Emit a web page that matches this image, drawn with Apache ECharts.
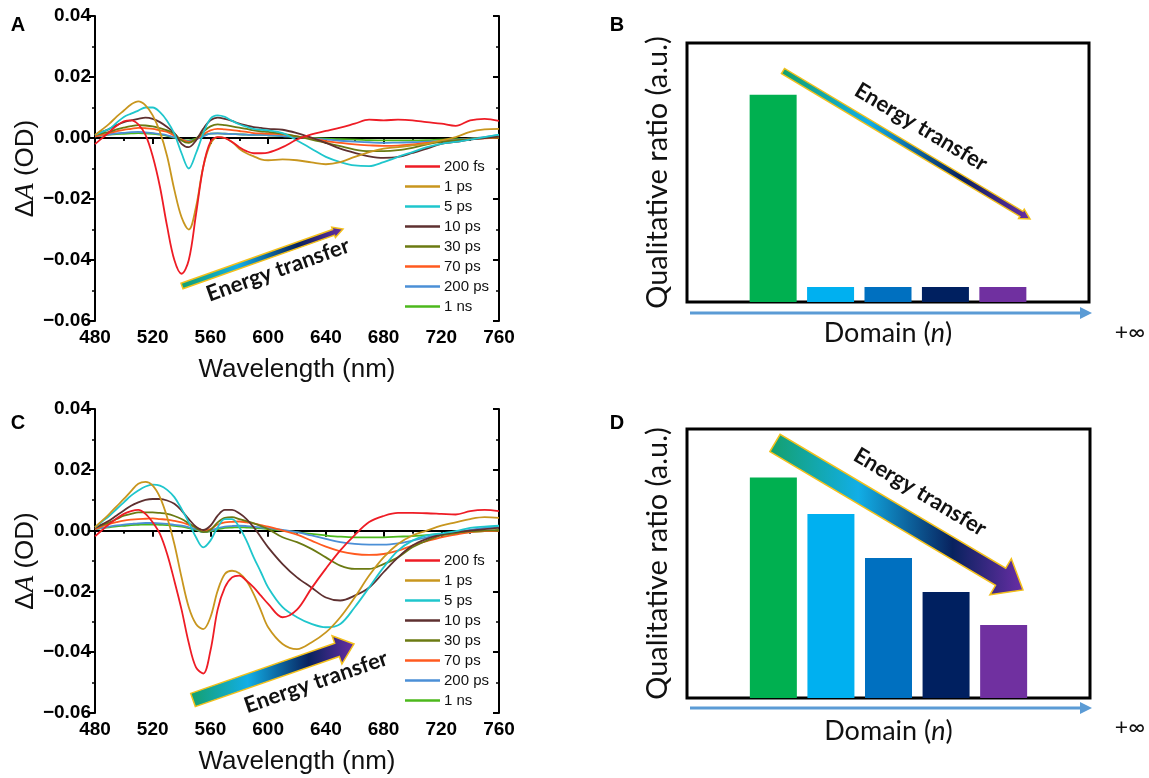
<!DOCTYPE html>
<html>
<head>
<meta charset="utf-8">
<script src="https://cdn.jsdelivr.net/npm/echarts@6/dist/echarts.min.js"></script>
<style>
  html, body { margin: 0; background: #fff; }
  #chart { width: 1149px; height: 778px; }
</style>
</head>
<body>
<div id="chart"></div>
<script>
// wavelength grid (nm), shared by both spectra panels
const wavelengths = [480, 485, 490, 495, 500, 505, 510, 515, 520, 525, 530, 535, 540, 545, 550, 555, 560, 565, 570, 575,
  580, 585, 590, 595, 600, 610, 620, 630, 640, 650, 660, 670, 680, 690, 700, 710, 720, 730, 740, 750, 760];

const delays = ['200 fs', '1 ps', '5 ps', '10 ps', '30 ps', '70 ps', '200 ps', '1 ns'];
const delayColors = ['#ee1c25', '#c8961e', '#1fc6cc', '#5e3030', '#6b7a12', '#ff5a1f', '#4b8fd6', '#4cb81c'];

// panel A: ΔA (OD) per delay
const a200fs = [-0.002, 0.0, 0.002, 0.004, 0.0055, 0.0058, 0.0045, 0.001, -0.006, -0.016, -0.029, -0.040, -0.0445, -0.040, -0.025, -0.0095, -0.0013, 0.0003, 0.0, -0.0013,
  -0.003, -0.0043, -0.005, -0.005, -0.0048, -0.003, -0.0005, 0.0012, 0.0023, 0.0034, 0.0047, 0.006, 0.0058, 0.006, 0.0058, 0.0052, 0.0047, 0.004, 0.0058, 0.0063, 0.0056];
const a1ps = [0.001, 0.0028, 0.0047, 0.007, 0.009, 0.011, 0.012, 0.0107, 0.0074, 0.002, -0.006, -0.017, -0.026, -0.030, -0.0226, -0.0095, -0.002, 0.0003, 0.0, -0.0013,
  -0.0035, -0.005, -0.006, -0.007, -0.0073, -0.007, -0.0073, -0.008, -0.0086, -0.0079, -0.0062, -0.0046, -0.0035, -0.003, -0.0024, -0.0019, -0.0008, 0.0003, 0.002, 0.0028, 0.003];
const a5ps = [0.001, 0.002, 0.003, 0.005, 0.0069, 0.008, 0.009, 0.010, 0.010, 0.0085, 0.0056, 0.0014, -0.005, -0.010, -0.005, 0.0014, 0.0063, 0.0074, 0.0069, 0.0056,
  0.0045, 0.0037, 0.003, 0.0027, 0.0025, 0.0016, -0.0008, -0.0035, -0.0062, -0.0079, -0.009, -0.0092, -0.0079, -0.0062, -0.0046, -0.003, -0.0019, -0.0013, -0.0005, 0.0003, 0.0011];
const a10ps = [0.001, 0.002, 0.003, 0.0042, 0.0052, 0.0058, 0.0063, 0.0067, 0.0063, 0.0052, 0.0036, 0.0016, -0.0019, -0.003, -0.0008, 0.003, 0.0058, 0.0067, 0.0063, 0.0056,
  0.0047, 0.0041, 0.0036, 0.0033, 0.003, 0.0027, 0.0016, 0.0001, -0.0016, -0.0035, -0.0049, -0.006, -0.0065, -0.0062, -0.0049, -0.0035, -0.0019, -0.0013, -0.0005, 0.0, 0.0005];
const a30ps = [0.001, 0.0015, 0.002, 0.0028, 0.0034, 0.0039, 0.0042, 0.0041, 0.0038, 0.0032, 0.0025, 0.0014, -0.0008, -0.0016, -0.0002, 0.002, 0.0038, 0.0045, 0.0042, 0.0038,
  0.0034, 0.003, 0.0025, 0.0022, 0.002, 0.0014, 0.0005, -0.0005, -0.0016, -0.0027, -0.0038, -0.0043, -0.0043, -0.004, -0.0032, -0.0021, -0.0013, -0.0008, -0.0003, 0.0001, 0.0003];
const a70ps = [0.0005, 0.001, 0.0016, 0.0022, 0.0027, 0.003, 0.0033, 0.0032, 0.003, 0.0025, 0.002, 0.0008, -0.0005, -0.0013, -0.0005, 0.0012, 0.0025, 0.003, 0.0028, 0.0026,
  0.0023, 0.002, 0.0016, 0.0015, 0.0014, 0.0012, 0.0005, -0.0002, -0.001, -0.0016, -0.0021, -0.0024, -0.0026, -0.0025, -0.0021, -0.0016, -0.0012, -0.0008, -0.0003, -0.0001, 0.0001];
const a200ps = [0.0005, 0.0009, 0.0012, 0.0015, 0.0017, 0.0019, 0.002, 0.0018, 0.0016, 0.0013, 0.0009, 0.0002, -0.0005, -0.001, -0.0005, 0.0005, 0.0014, 0.0015, 0.0014, 0.0013,
  0.0012, 0.0011, 0.001, 0.001, 0.0009, 0.0006, 0.0003, -0.0001, -0.0005, -0.0009, -0.0012, -0.0014, -0.0016, -0.0015, -0.0014, -0.0012, -0.001, -0.0006, -0.0002, 0.0003, 0.0009];
const a1ns = [0.0005, 0.0008, 0.0011, 0.0013, 0.0014, 0.0015, 0.0016, 0.0015, 0.0014, 0.0011, 0.0007, 0.0001, -0.0005, -0.0008, -0.0002, 0.0009, 0.0014, 0.0015, 0.0014, 0.0013,
  0.0012, 0.0011, 0.001, 0.001, 0.0009, 0.0006, 0.0003, 0.0, -0.0002, -0.0004, -0.0005, -0.0007, -0.0008, -0.0008, -0.0008, -0.0007, -0.0005, -0.0004, -0.0002, 0.0, 0.0001];

// panel C: ΔA (OD) per delay
const c200fs = [-0.0019, 0.0002, 0.0022, 0.004, 0.0055, 0.0064, 0.0068, 0.0055, 0.0027, -0.0011, -0.0077, -0.0165, -0.026, -0.037, -0.045, -0.047, -0.0395, -0.026, -0.0187, -0.0154,
  -0.0148, -0.0165, -0.0187, -0.0214, -0.0241, -0.0285, -0.026, -0.019, -0.0125, -0.0065, -0.0015, 0.0028, 0.0048, 0.0058, 0.0058, 0.0057, 0.0055, 0.0053, 0.0064, 0.0068, 0.0064];
const c1ps = [0.0011, 0.0033, 0.0055, 0.008, 0.0104, 0.013, 0.0154, 0.016, 0.0148, 0.011, 0.0044, -0.0044, -0.0154, -0.0252, -0.0307, -0.0324, -0.0285, -0.0198, -0.0143, -0.0132,
  -0.014, -0.0165, -0.0209, -0.0263, -0.0318, -0.0373, -0.039, -0.0368, -0.0335, -0.0285, -0.022, -0.0148, -0.0088, -0.0044, -0.0016, 0.0, 0.0016, 0.0027, 0.0038, 0.0044, 0.0042];
const c5ps = [0.0011, 0.003, 0.0049, 0.0071, 0.0093, 0.0115, 0.0132, 0.0145, 0.0151, 0.0148, 0.0134, 0.011, 0.0071, 0.0027, -0.0022, -0.0055, -0.0033, 0.0011, 0.0038, 0.0038,
  0.0011, -0.0033, -0.0088, -0.0137, -0.0187, -0.0252, -0.0285, -0.0307, -0.0318, -0.0307, -0.0252, -0.0187, -0.0121, -0.0066, -0.0033, -0.0016, -0.0009, -0.0002, 0.0009, 0.0013, 0.0016];
const c10ps = [0.0009, 0.0021, 0.0033, 0.005, 0.0066, 0.0082, 0.0093, 0.0101, 0.0104, 0.0104, 0.0099, 0.0088, 0.0066, 0.0038, 0.0013, 0.0002, 0.0016, 0.0049, 0.0068, 0.0068,
  0.0057, 0.0038, 0.0011, -0.0022, -0.0055, -0.011, -0.0154, -0.0187, -0.022, -0.023, -0.0214, -0.0187, -0.0137, -0.0088, -0.0049, -0.0027, -0.0013, -0.0005, 0.0, 0.0005, 0.0009];
const c30ps = [0.0009, 0.0018, 0.0027, 0.0038, 0.0049, 0.0055, 0.006, 0.006, 0.006, 0.0058, 0.0055, 0.0048, 0.0038, 0.0024, 0.0009, -0.0005, 0.0002, 0.0027, 0.0042, 0.0044,
  0.0038, 0.0031, 0.0024, 0.0015, 0.0005, -0.0022, -0.0038, -0.006, -0.0088, -0.0115, -0.0126, -0.0126, -0.011, -0.0088, -0.0055, -0.0033, -0.0016, -0.0008, -0.0002, 0.0, 0.0002];
const c70ps = [0.0005, 0.0014, 0.0022, 0.0028, 0.0033, 0.0036, 0.0038, 0.0039, 0.004, 0.0038, 0.0036, 0.0032, 0.0027, 0.0019, 0.0011, 0.0, 0.0005, 0.002, 0.0027, 0.0029,
  0.003, 0.0027, 0.0024, 0.0018, 0.0013, 0.0, -0.0013, -0.0033, -0.0053, -0.0068, -0.0077, -0.008, -0.0077, -0.0066, -0.0049, -0.0035, -0.0022, -0.0013, -0.0005, -0.0002, 0.0];
const c200ps = [0.0005, 0.0009, 0.0013, 0.0017, 0.002, 0.0022, 0.0024, 0.0025, 0.0025, 0.0024, 0.0022, 0.0019, 0.0016, 0.0011, 0.0005, -0.0005, 0.0, 0.0008, 0.0013, 0.0015,
  0.0016, 0.0015, 0.0013, 0.001, 0.0008, 0.0002, -0.0005, -0.0016, -0.0027, -0.0038, -0.0044, -0.0046, -0.0046, -0.0042, -0.0033, -0.0022, -0.0013, -0.0005, 0.0002, 0.0009, 0.0013];
const c1ns = [0.0005, 0.0008, 0.0011, 0.0014, 0.0016, 0.0018, 0.0019, 0.002, 0.002, 0.0019, 0.0018, 0.0016, 0.0013, 0.0008, 0.0002, -0.0005, -0.0002, 0.0004, 0.0009, 0.001,
  0.0011, 0.001, 0.0009, 0.0007, 0.0005, 0.0, -0.0005, -0.0011, -0.0016, -0.002, -0.0022, -0.0022, -0.0022, -0.002, -0.0018, -0.0015, -0.0011, -0.0009, -0.0005, -0.0002, 0.0];

const spectraA = [a200fs, a1ps, a5ps, a10ps, a30ps, a70ps, a200ps, a1ns];
const spectraC = [c200fs, c1ps, c5ps, c10ps, c30ps, c70ps, c200ps, c1ns];

// panels B / D: qualitative domain ratio (empty slots at both ends)
const domains = ['pad0', 'n1', 'n2', 'n3', 'n4', 'n5', 'pad6'];
const ratioB = [null, 80, 5.8, 5.8, 5.8, 5.8, null];
const ratioD = [null, 82, 68.4, 52, 39.4, 27.1, null];
const domainColors = ['#00b050', '#00b050', '#00b0f0', '#0070c0', '#002060', '#7030a0', '#7030a0'];

const chart = echarts.init(document.getElementById('chart'));

const black = '#000';
const sans = 'Liberation Sans';
const fmtY = v => (v < -1e-9 ? '\u2212' : '') + Math.abs(v).toFixed(2);

// spectrum panel axes: bottom/left with labels, top/right mirror
function specX(gi, pos) {
  const main = pos === 'bottom';
  return {
    type: 'value', gridIndex: gi, position: pos, min: 480, max: 760, interval: 40,
    axisLine: { lineStyle: { color: black, width: 2 } },
    axisTick: { inside: !main, length: 6, lineStyle: { color: black, width: 2 } },
    minorTick: { show: true, splitNumber: 2, length: 3, lineStyle: { color: black, width: 1.5 } },
    splitLine: { show: false },
    axisLabel: { show: main, color: black, fontSize: 19, fontWeight: 'bold', fontFamily: sans, margin: 7 },
    name: main ? 'Wavelength (nm)' : '', nameLocation: 'middle', nameGap: 36,
    nameTextStyle: { fontSize: 26, color: '#111', fontFamily: sans }
  };
}
function specY(gi, pos) {
  const main = pos === 'left';
  return {
    type: 'value', gridIndex: gi, position: pos, min: -0.06, max: 0.04, interval: 0.02,
    axisLine: { lineStyle: { color: black, width: 2 } },
    axisTick: { inside: !main, length: 6, lineStyle: { color: black, width: 2 } },
    minorTick: { show: true, splitNumber: 2, length: 3, lineStyle: { color: black, width: 1.5 } },
    splitLine: { show: false },
    axisLabel: { show: main, color: black, fontSize: 19, fontWeight: 'bold', fontFamily: sans, margin: 4, formatter: fmtY },
    name: main ? '{n|\u0394}{i|A}{n| (OD)}' : '', nameLocation: 'middle', nameGap: 52,
    nameTextStyle: {
      rich: {
        n: { fontSize: 26, color: '#111', fontFamily: sans },
        i: { fontSize: 27, color: '#111', fontFamily: 'Liberation Serif', fontStyle: 'italic' }
      }
    }
  };
}
function barX(gi, gap) {
  return {
    type: 'category', gridIndex: gi, data: domains,
    axisLine: { show: false }, axisTick: { show: false }, axisLabel: { show: false }, splitLine: { show: false },
    name: 'Domain ({i|n})', nameLocation: 'middle', nameGap: gap,
    nameTextStyle: {
      fontSize: 27, color: '#111', fontFamily: 'Lato',
      rich: { i: { fontSize: 27, color: '#111', fontFamily: 'Lato', fontStyle: 'italic' } }
    }
  };
}
function barY(gi) {
  return {
    type: 'value', gridIndex: gi, min: 0, max: 100,
    axisLine: { show: false }, axisTick: { show: false }, axisLabel: { show: false }, splitLine: { show: false },
    name: 'Qualitative ratio (a.u.)', nameLocation: 'middle', nameGap: 15,
    nameTextStyle: { fontSize: 29, color: '#111', fontFamily: 'Lato' }
  };
}

function lineSeries(list, axisIdx) {
  return list.map((vals, k) => ({
    type: 'line', name: delays[k], xAxisIndex: axisIdx, yAxisIndex: axisIdx,
    data: wavelengths.map((w, i) => [w, vals[i]]),
    symbol: 'none', smooth: 0.35, z: 10 - k,
    lineStyle: { width: 1.8, color: delayColors[k] },
    itemStyle: { color: delayColors[k] }
  }));
}
function barSeries(vals, axisIdx) {
  return {
    type: 'bar', xAxisIndex: axisIdx, yAxisIndex: axisIdx, barWidth: 47,
    data: vals.map((v, i) => ({ value: v, itemStyle: { color: domainColors[i] } }))
  };
}

// gradient arrow polygon between two points
function arrowPts(x1, y1, x2, y2, sw, hw, hl) {
  const L = Math.hypot(x2 - x1, y2 - y1);
  const ux = (x2 - x1) / L, uy = (y2 - y1) / L;
  const nx = -uy, ny = ux;
  const bx = x2 - ux * hl, by = y2 - uy * hl;
  return [
    [x1 + nx * sw / 2, y1 + ny * sw / 2], [bx + nx * sw / 2, by + ny * sw / 2], [bx + nx * hw / 2, by + ny * hw / 2],
    [x2, y2],
    [bx - nx * hw / 2, by - ny * hw / 2], [bx - nx * sw / 2, by - ny * sw / 2], [x1 - nx * sw / 2, y1 - ny * sw / 2]
  ];
}
function energyArrow(x1, y1, x2, y2, sw, hw, hl) {
  return {
    type: 'polygon', z: 50,
    shape: { points: arrowPts(x1, y1, x2, y2, sw, hw, hl) },
    style: {
      fill: new echarts.graphic.LinearGradient(0, 0, 1, 0, [
        { offset: 0, color: '#14a06c' }, { offset: 0.35, color: '#12aee6' },
        { offset: 0.72, color: '#08225e' }, { offset: 1, color: '#6a2ea6' }
      ]),
      stroke: '#f3c01a', lineWidth: 1.5
    }
  };
}
function energyText(x, y, deg, size) {
  return {
    type: 'text', x: x, y: y, rotation: deg * Math.PI / 180, z: 51,
    style: { text: 'Energy transfer', fontSize: size, fontWeight: 'bold', fontFamily: 'Lato', fill: '#111', align: 'center', verticalAlign: 'middle' }
  };
}
function domainArrow(y) {
  return [
    { type: 'line', shape: { x1: 690, y1: y, x2: 1082, y2: y }, style: { stroke: '#5b9bd5', lineWidth: 3 } },
    { type: 'polygon', shape: { points: [[1080, y - 6], [1092, y], [1080, y + 6]] }, style: { fill: '#5b9bd5' } },
    { type: 'text', x: 1130, y: y + 20, style: { text: '+\u221e', fontSize: 23, fontFamily: 'Lato', fill: '#111', align: 'center', verticalAlign: 'middle' } }
  ];
}
function panelLabel(t, x, y) {
  return { type: 'text', x: x, y: y, style: { text: t, fontSize: 20, fontWeight: 'bold', fontFamily: sans, fill: black, align: 'center', verticalAlign: 'middle' } };
}

const legendBase = {
  orient: 'vertical', data: delays, icon: 'rect', itemWidth: 35, itemHeight: 2.5, itemGap: 5, padding: 0,
  selectedMode: false,
  textStyle: { fontSize: 15, color: '#111', fontFamily: sans, padding: [0, 0, 0, -1] }
};

const option = {
  backgroundColor: '#fff',
  animation: false,
  grid: [
    { left: 95, top: 16, width: 404, height: 305 },
    { left: 95, top: 409, width: 404, height: 304 },
    { left: 687, top: 43, width: 402, height: 259, show: true, borderColor: black, borderWidth: 3 },
    { left: 687, top: 429, width: 403, height: 269, show: true, borderColor: black, borderWidth: 3 }
  ],
  xAxis: [specX(0, 'bottom'), specX(0, 'top'), specX(1, 'bottom'), specX(1, 'top'), barX(2, 18), barX(3, 20)],
  yAxis: [specY(0, 'left'), specY(0, 'right'), specY(1, 'left'), specY(1, 'right'), barY(2), barY(3)],
  legend: [
    Object.assign({ left: 405, top: 159 }, legendBase),
    Object.assign({ left: 405, top: 553 }, legendBase)
  ],
  series: [].concat(
    lineSeries(spectraA, 0),
    lineSeries(spectraC, 2),
    [barSeries(ratioB, 4), barSeries(ratioD, 5)]
  ),
  graphic: [].concat(
    [panelLabel('A', 18, 25), panelLabel('B', 617, 25), panelLabel('C', 18, 423), panelLabel('D', 617, 423)],
    [energyArrow(182, 286, 343, 229, 6, 11, 10), energyText(278, 270, 19.5, 22)],
    [energyArrow(193, 700, 354, 644, 14, 30, 18), energyText(316, 682, 19, 22)],
    [energyArrow(783, 71, 1030, 219, 6, 11, 10), energyText(921, 127, -31, 22)],
    [energyArrow(775, 443, 1023, 590, 20, 42, 26), energyText(920, 492, -31, 22)],
    domainArrow(313), domainArrow(708)
  )
};

chart.setOption(option);
</script>
</body>
</html>
